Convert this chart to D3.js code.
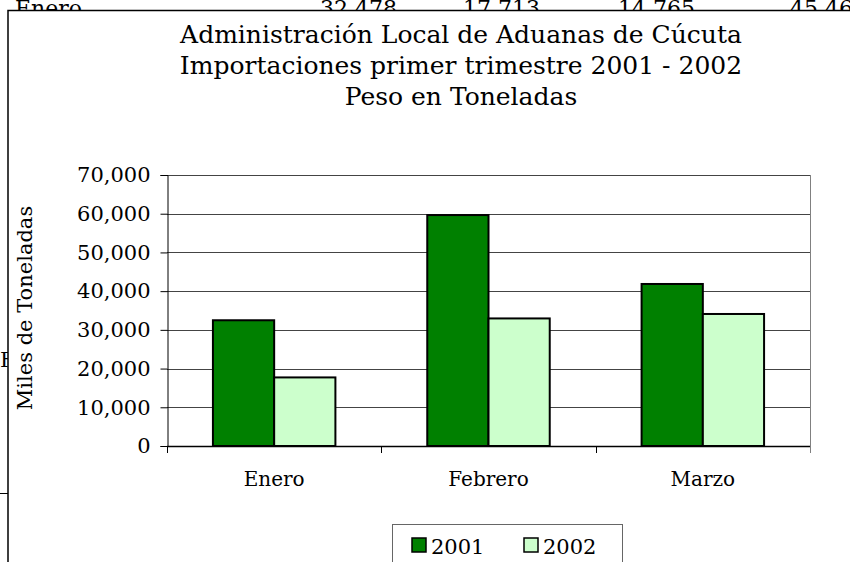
<!DOCTYPE html>
<html>
<head>
<meta charset="utf-8">
<script src="https://cdn.jsdelivr.net/npm/d3@7"></script>
<style>
  body { margin: 0; background: #fff; }
  svg { display: block; font-family: "DejaVu Serif", serif; }
</style>
</head>
<body>
<svg id="chart" width="850" height="562"></svg>
<script>
// data
const categories = ['Enero', 'Febrero', 'Marzo'];
const years = ['2001', '2002'];
const values2001 = [32478, 59650, 41850];
const values2002 = [17713, 32950, 34100];
const yTicks = [0, 10000, 20000, 30000, 40000, 50000, 60000, 70000];
const titleLines = [
  'Administración Local de Aduanas de Cúcuta',
  'Importaciones primer trimestre 2001 - 2002',
  'Peso en Toneladas'
];
// spreadsheet row peeking out above the chart
const sheetRow = ['Enero', '32,478', '17,713', '14,765', '45,46%'];

const colors = { '2001': '#008000', '2002': '#ccffcc' };

const svg = d3.select('#chart');

// spreadsheet behind the chart (mostly hidden by it)
svg.append('text').attr('x', 15).attr('y', 16)
  .attr('font-size', 22).text(sheetRow[0]);
const rowX = [397, 540, 695];
sheetRow.slice(1, 4).forEach((t, i) => {
  svg.append('text').attr('x', rowX[i]).attr('y', 16)
    .attr('font-size', 22).attr('text-anchor', 'end').text(t);
});
svg.append('text').attr('x', 790).attr('y', 16)
  .attr('font-size', 22).text(sheetRow[4]);
svg.append('text').attr('x', 0).attr('y', 367)
  .attr('font-size', 21).text('Febrero');
svg.append('line').attr('x1', 0).attr('x2', 8).attr('y1', 493.5).attr('y2', 493.5)
  .attr('stroke', '#000');

// chart frame
svg.append('rect')
  .attr('x', 8).attr('y', 10.5)
  .attr('width', 900).attr('height', 600)
  .attr('fill', '#fff').attr('stroke', '#000').attr('stroke-width', 1.5);

// title
svg.append('g').selectAll('text')
  .data(titleLines)
  .join('text')
  .attr('x', 461)
  .attr('y', (d, i) => 43 + i * 31)
  .attr('text-anchor', 'middle')
  .attr('font-size', 25)
  .text(d => d);

// scales
const plot = { left: 167, right: 810, top: 175, bottom: 446 };

const x0 = d3.scaleBand()
  .domain(categories)
  .range([plot.left, plot.right]);

const x1 = d3.scaleBand()
  .domain(years)
  .range([0, x0.bandwidth()])
  .paddingInner(0)
  .paddingOuter(0.75);

const y = d3.scaleLinear()
  .domain([0, 70000])
  .range([plot.bottom, plot.top]);

// gridlines
svg.append('g').selectAll('line')
  .data(yTicks.slice(1))
  .join('line')
  .attr('x1', plot.left).attr('x2', plot.right)
  .attr('y1', d => Math.round(y(d)) + 0.5)
  .attr('y2', d => Math.round(y(d)) + 0.5)
  .attr('stroke', '#444');

// plot area right edge
svg.append('line')
  .attr('x1', plot.right + 0.5).attr('x2', plot.right + 0.5)
  .attr('y1', plot.top).attr('y2', plot.bottom + 7)
  .attr('stroke', '#808080');

// bars
const rows = categories.map((c, i) => ({ cat: c, '2001': values2001[i], '2002': values2002[i] }));

svg.append('g').selectAll('g')
  .data(rows)
  .join('g')
  .attr('transform', d => `translate(${x0(d.cat)},0)`)
  .selectAll('rect')
  .data(d => years.map(k => ({ key: k, value: d[k] })))
  .join('rect')
  .attr('x', d => x1(d.key))
  .attr('y', d => y(d.value))
  .attr('width', x1.bandwidth())
  .attr('height', d => y(0) - y(d.value))
  .attr('fill', d => colors[d.key])
  .attr('stroke', '#000')
  .attr('stroke-width', 2);

// y axis
const yAxis = d3.axisLeft(y)
  .tickValues(yTicks)
  .tickFormat(d3.format(','))
  .tickSizeOuter(0)
  .tickSize(7)
  .tickPadding(10);

const gy = svg.append('g')
  .attr('transform', `translate(${plot.left + 0.5},0)`)
  .call(yAxis);
gy.selectAll('text').attr('font-size', 21).attr('font-family', '"DejaVu Serif", serif').attr('fill', '#000');
gy.selectAll('line, path').attr('stroke', '#000');

// x axis: ticks at category boundaries
const gx = svg.append('g');
gx.append('line')
  .attr('x1', plot.left).attr('x2', plot.right)
  .attr('y1', plot.bottom + 0.5).attr('y2', plot.bottom + 0.5)
  .attr('stroke', '#000').attr('stroke-width', 1.5);
const bounds = categories.map(c => x0(c));
gx.selectAll('line.tick')
  .data(bounds)
  .join('line')
  .attr('class', 'tick')
  .attr('x1', d => Math.round(d) + 0.5).attr('x2', d => Math.round(d) + 0.5)
  .attr('y1', plot.bottom).attr('y2', plot.bottom + 7)
  .attr('stroke', '#000');
gx.selectAll('text')
  .data(categories)
  .join('text')
  .attr('x', d => x0(d) + x0.bandwidth() / 2)
  .attr('y', 486)
  .attr('text-anchor', 'middle')
  .attr('font-size', 20)
  .text(d => d);

// y axis title
svg.append('text')
  .attr('transform', 'translate(32,308) rotate(-90)')
  .attr('text-anchor', 'middle')
  .attr('font-size', 21)
  .text('Miles de Toneladas');

// legend
const legend = svg.append('g');
legend.append('rect')
  .attr('x', 392.5).attr('y', 524.5)
  .attr('width', 230).attr('height', 60)
  .attr('fill', '#fff').attr('stroke', '#666');
const legX = [412, 524];
years.forEach((k, i) => {
  legend.append('rect')
    .attr('x', legX[i]).attr('y', 538)
    .attr('width', 14).attr('height', 14)
    .attr('fill', colors[k]).attr('stroke', '#000').attr('stroke-width', 1.5);
  legend.append('text')
    .attr('x', legX[i] + 19).attr('y', 554)
    .attr('font-size', 21)
    .text(k);
});
</script>
</body>
</html>
